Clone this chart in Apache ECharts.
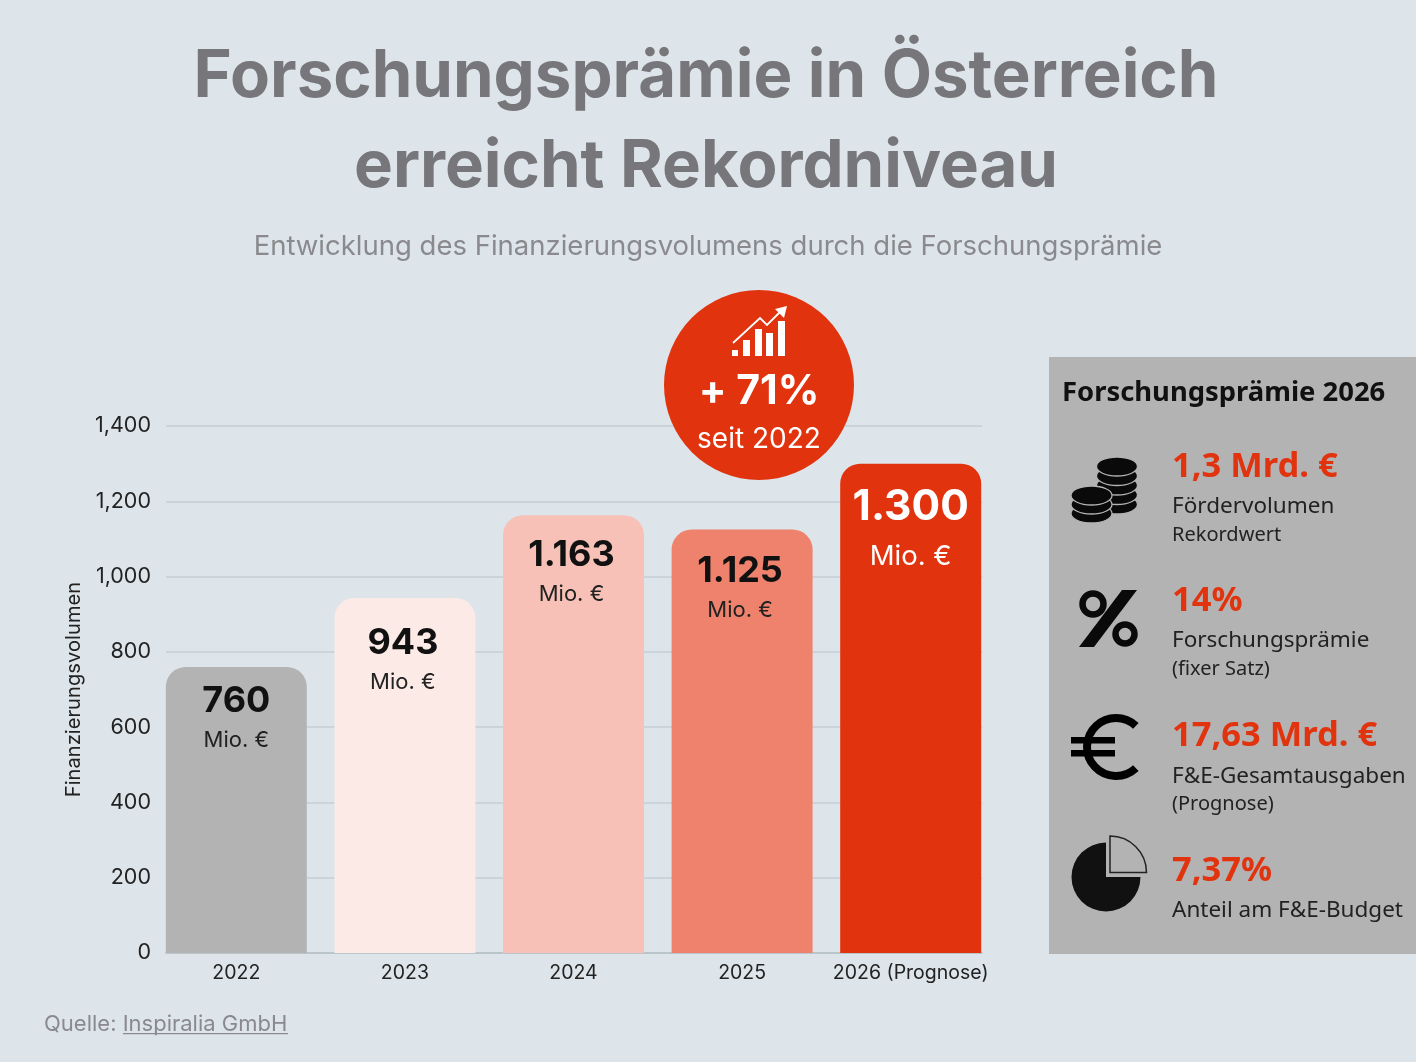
<!DOCTYPE html>
<html><head><meta charset="utf-8">
<style>html,body{margin:0;padding:0;background:#dde5ea}#c{width:1416px;height:1062px}</style>
<script src="https://cdn.jsdelivr.net/npm/echarts@6/dist/echarts.min.js"></script>
</head><body><div id="c"></div>
<script>
const categories = ['2022','2023','2024','2025','2026 (Prognose)'];
const values = [760,943,1163,1125,1300];
const valueLabels = ['760','943','1.163','1.125','1.300'];
const barColors = ['#b3b3b3','#fceae7','#f7c1b7','#ef826c','#e2330f'];
const labelColors = ['#111111','#111111','#111111','#111111','#ffffff'];
const unit = 'Mio. €';
const yMax = 1400, yStep = 200;
const sideTitle = 'Forschungsprämie 2026';
const sideRows = [
  {big:'1,3 Mrd. €', mid:'Fördervolumen', small:'Rekordwert'},
  {big:'14%', mid:'Forschungsprämie', small:'(fixer Satz)'},
  {big:'17,63 Mrd. €', mid:'F&E-Gesamtausgaben', small:'(Prognose)'},
  {big:'7,37%', mid:'Anteil am F&E-Budget', small:''}
];
const labelShift = [[0,0],[-2,11],[-2,6],[-2,8],[0,5]];
const RED='#e2330f', F='Inter', S='"Noto Sans"';
const txt=(x,y,text,o)=>({type:'text',x,y,z:20,style:Object.assign({text,fontFamily:S,fill:'#222',textVerticalAlign:'middle',textBaseline:'middle'},o)});
const rows=[[467,507,535],[601,641,669],[736,777,804],[871,911,0]];
const g=[];
g.push({type:'rect',z:1,shape:{x:1049,y:357,width:367,height:597},style:{fill:'#b3b3b3'}});
g.push(txt(1062,393,sideTitle,{fontSize:27.4,fontWeight:'bold',fill:'#111'}));
sideRows.forEach((r,i)=>{
  g.push(txt(1172,rows[i][0],r.big,{fontSize:34.5,fontWeight:'bold',fill:RED}));
  g.push(txt(1172,rows[i][1],r.mid,{fontSize:22.5,fill:'#222'}));
  if(r.small) g.push(txt(1172,rows[i][2],r.small,{fontSize:20,fill:'#222'}));
});
// badge
g.push({type:'circle',z:10,shape:{cx:759,cy:385,r:95},style:{fill:RED}});
[[732,350,6],[743,340,7],[755,329,7],[766,333,7],[778,321,7]].forEach(b=>{
  g.push({type:'rect',z:11,shape:{x:b[0],y:b[1],width:b[2],height:356-b[1]},style:{fill:'#fff'}});
});
g.push({type:'polyline',z:11,shape:{points:[[733,343],[760,318],[767,325],[782,310]]},style:{stroke:'#fff',fill:null,lineWidth:1.8}});
g.push({type:'polygon',z:11,shape:{points:[[787,306],[775,309],[784,318]]},style:{fill:'#fff'}});
g.push({type:'text',z:12,x:759,y:392,style:{text:'+ 71%',font:'bold 41px Inter',fill:'#fff',textAlign:'center',textVerticalAlign:'middle',textBaseline:'middle'}});
g.push({type:'text',z:12,x:759,y:440,style:{text:'seit 2022',font:'28px Inter',fill:'#fff',textAlign:'center',textVerticalAlign:'middle',textBaseline:'middle'}});
// coins
const coin=(cx,top,n,step)=>{
  for(let k=n-1;k>=0;k--){
    g.push({type:'ellipse',z:11,shape:{cx,cy:top+k*step,rx:20.5,ry:9.5},style:{fill:'#0a0a0a',stroke:'#b3b3b3',lineWidth:1.3}});
  }
};
coin(1117,466.5,5,9.5); coin(1091.5,495.5,3,9);
// percent
g.push({type:'polygon',z:11,shape:{points:[[1122,590],[1137,590],[1094,647],[1079,647]]},style:{fill:'#0a0a0a'}});
g.push({type:'circle',z:11,shape:{cx:1093,cy:604,r:10.5},style:{fill:'none',stroke:'#0a0a0a',lineWidth:6.5}});
g.push({type:'circle',z:11,shape:{cx:1125,cy:634,r:9.5},style:{fill:'none',stroke:'#0a0a0a',lineWidth:6.5}});
// euro
g.push({type:'arc',z:11,shape:{cx:1116,cy:747,r:29,startAngle:Math.PI*0.26,endAngle:-Math.PI*0.26,clockwise:true},style:{stroke:'#000',lineWidth:8,fill:null}});
g.push({type:'rect',z:11,shape:{x:1071,y:737,width:44,height:6.5},style:{fill:'#000'}});
g.push({type:'rect',z:11,shape:{x:1071,y:750,width:44,height:6.5},style:{fill:'#000'}});
// pie
g.push({type:'sector',z:11,shape:{cx:1106,cy:877,r0:0,r:34.5,startAngle:0,endAngle:Math.PI*1.5},style:{fill:'#111'}});
g.push({type:'sector',z:11,shape:{cx:1110,cy:872.5,r0:0,r:36.5,startAngle:-Math.PI/2,endAngle:0},style:{fill:'#b3b3b3',stroke:'#222',lineWidth:1.5}});
// source underline
g.push({type:'rect',z:5,shape:{x:123,y:1033,width:165,height:1.2},style:{fill:'#8a8a8e'}});

const titleStyle={fontFamily:F,fontWeight:'bold',fontSize:65.3,lineHeight:90,color:'#77777b'};
const chart=echarts.init(document.getElementById('c'),null,{renderer:'canvas'});
chart.setOption({
  backgroundColor:'#dde5ea',animation:false,
  title:[
    {text:'Forschungsprämie in Österreich',left:706,top:32,padding:0,textAlign:'center',textStyle:titleStyle},
    {text:'erreicht Rekordniveau',left:706,top:122,padding:0,textAlign:'center',textStyle:titleStyle},
    {text:'Entwicklung des Finanzierungsvolumens durch die Forschungsprämie',left:708,top:233,padding:0,textAlign:'center',
     textStyle:{fontFamily:F,fontWeight:'normal',fontSize:27.5,color:'#8a8a8e'}},
    {text:'Quelle: Inspiralia GmbH',left:44,top:1013,padding:0,
     textStyle:{fontFamily:F,fontWeight:'normal',fontSize:22,color:'#8a8a8e'}}
  ],
  grid:[
    {left:166,right:1416-982,top:426,height:527},
    {left:152,right:1416-995,top:426,height:527}
  ],
  xAxis:[
    {gridIndex:0,type:'category',data:categories,axisLine:{lineStyle:{color:'#b4bfc6',width:1.5}},axisTick:{show:false},axisLabel:{show:false}},
    {gridIndex:1,type:'category',data:categories,axisLine:{show:false},axisTick:{show:false},
     axisLabel:{interval:0,margin:10,fontFamily:F,fontSize:19.5,color:'#222'}}
  ],
  yAxis:[
    {gridIndex:0,type:'value',min:0,max:yMax,interval:yStep,name:'Finanzierungsvolumen',nameLocation:'middle',nameGap:81,
     nameTextStyle:{fontFamily:F,fontSize:20.2,color:'#222'},
     axisLine:{show:false},axisTick:{show:false},
     axisLabel:{margin:15,fontFamily:F,fontSize:21.5,color:'#222',formatter:v=>v>=1000?String(v).replace(/(\d)(\d{3})$/,'$1,$2'):String(v)},
     splitLine:{lineStyle:{color:'#c3ced5',width:1.5}}},
    {gridIndex:1,type:'value',min:0,max:yMax,interval:yStep,show:false,splitLine:{show:false}}
  ],
  series:[{
    type:'bar',xAxisIndex:1,yAxisIndex:1,barWidth:141,
    data:values.map((v,i)=>({value:v,itemStyle:{color:barColors[i],borderRadius:[20,20,0,0]},
      label:{offset:labelShift[i],color:labelColors[i],formatter:()=>'{a|'+valueLabels[i]+'}\n{b|'+unit+'}',
        rich:{a:{fontFamily:F,fontWeight:'bold',fontSize:i==4?42.5:36,lineHeight:i==4?54:44,color:labelColors[i]},
              b:{fontFamily:F,fontSize:i==4?27.5:22,lineHeight:i==4?44:34,color:i==4?'#fff':'#222'}}}})),
    label:{show:true,position:'insideTop',distance:12}
  }],
  graphic:g
});
</script></body></html>
